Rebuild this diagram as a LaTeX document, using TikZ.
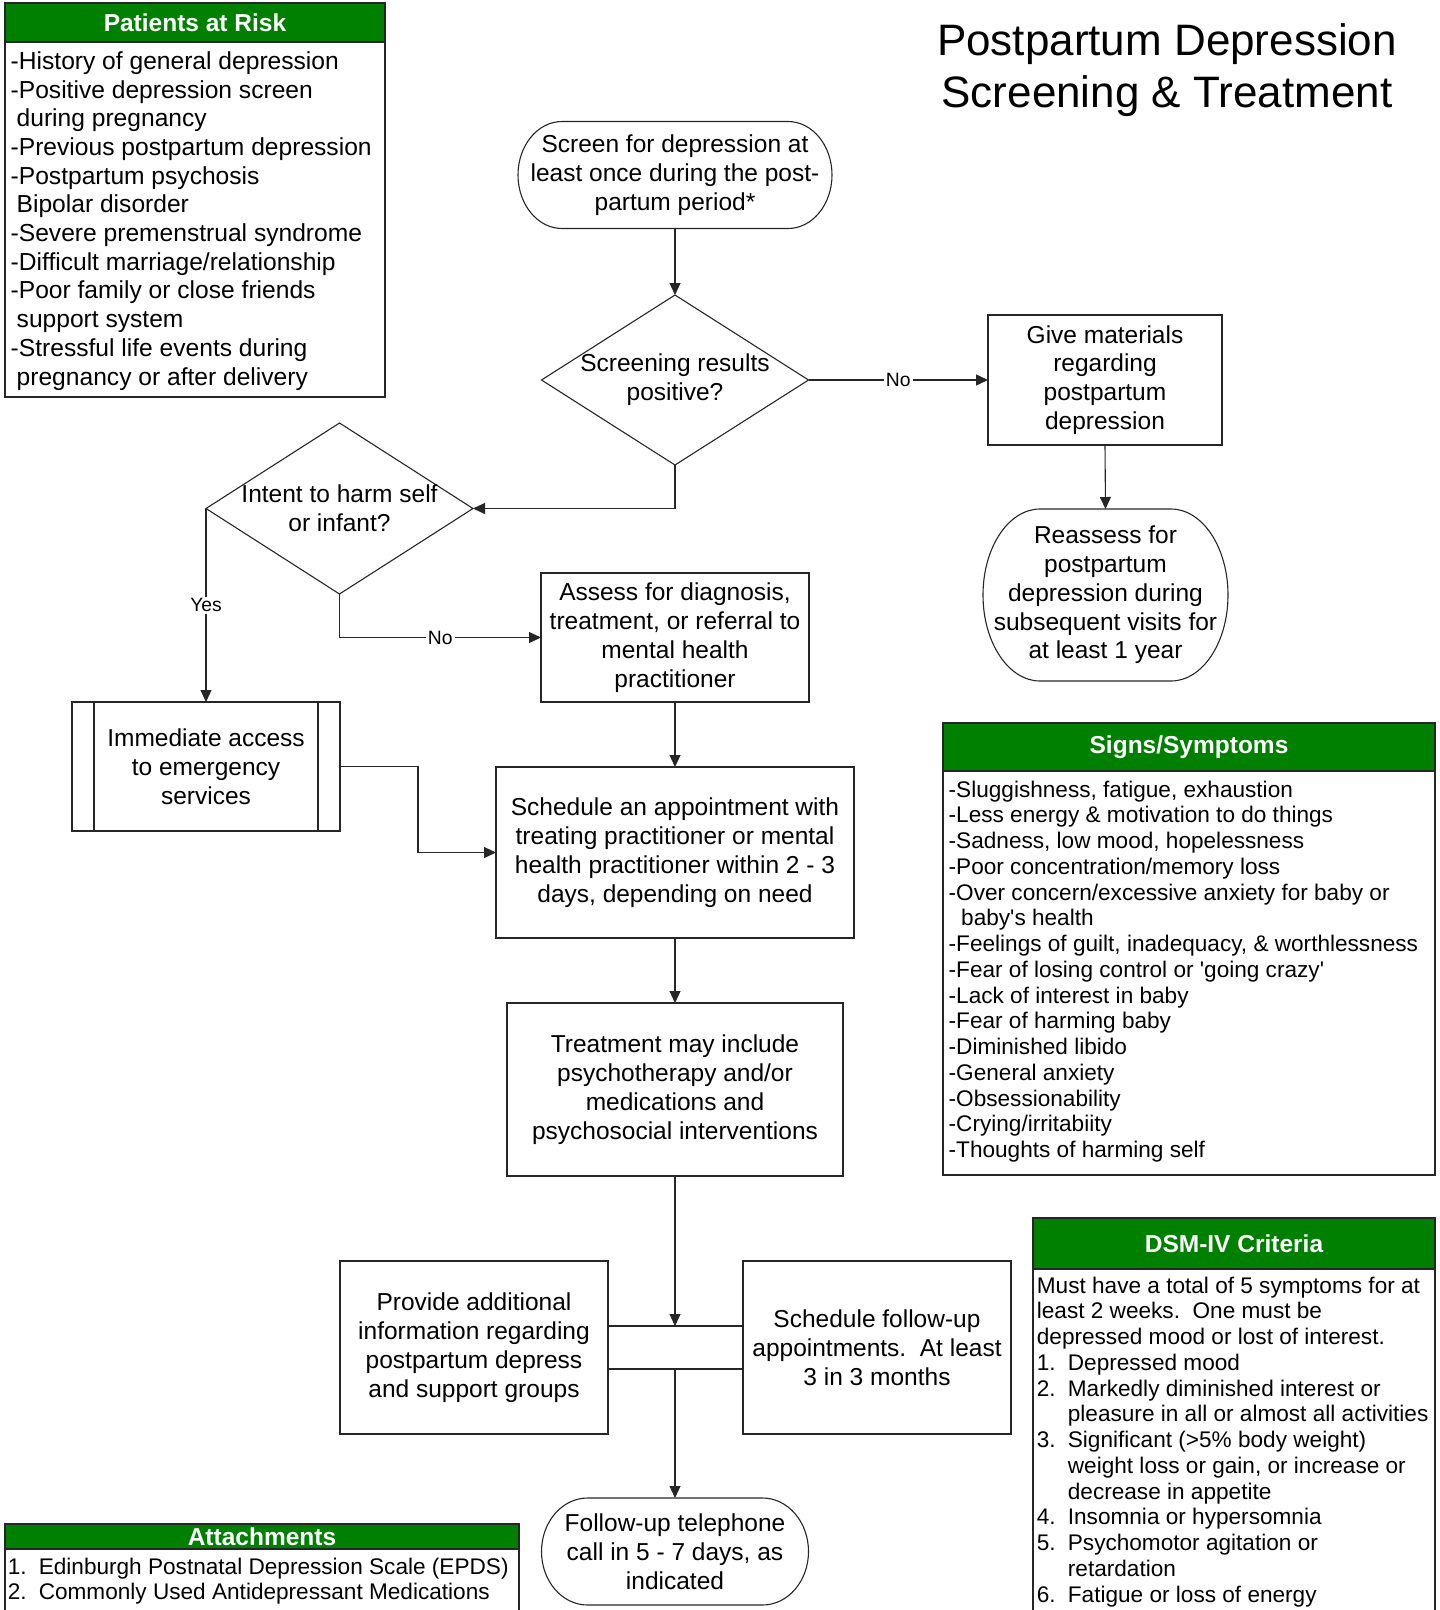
\documentclass[tikz,border=0pt]{standalone}
\usepackage{fontspec}
\usetikzlibrary{arrows.meta,positioning,shapes.geometric}
\newfontfamily\arialf{Liberation Sans}
\definecolor{hdgreen}{HTML}{008000}
\definecolor{edge}{HTML}{262626}
\newcommand{\flowfont}{\arialf\fontsize{24.5}{28.8}\selectfont}
\newcommand{\riskfont}{\arialf\fontsize{24.6}{28.7}\selectfont}
\newcommand{\listfont}{\arialf\fontsize{22.6}{25.75}\selectfont}
\newcommand{\hdfont}{\arialf\bfseries\fontsize{24.5}{28}\selectfont}
\newcommand{\tagfont}{\arialf\fontsize{19.3}{22}\selectfont}
\newcommand{\titlefont}{\arialf\fontsize{44}{52}\selectfont}
\newcommand{\itm}[1]{\makebox[31pt][l]{#1}}
\tikzset{
  box/.style={rectangle, draw=edge, line width=1.1pt, fill=white, align=center, inner sep=0pt, outer sep=0pt, font=\flowfont},
  term/.style={rectangle, inner sep=0pt, outer sep=0pt, align=center, font=\flowfont},
  decision/.style={diamond, draw=edge, line width=1.1pt, inner sep=0pt, outer sep=0pt},
  qtext/.style={align=center, inner sep=0pt, font=\flowfont},
  hdr/.style={rectangle, draw=edge, line width=1.1pt, fill=hdgreen, text=white, inner sep=0pt, outer sep=0pt, font=\hdfont},
  panel/.style={rectangle, draw=edge, line width=1.1pt, inner sep=0pt, outer sep=0pt},
  listtxt/.style={anchor=north west, align=left, inner sep=0pt, font=\listfont},
  link/.style={draw=edge, line width=1.1pt, -{Triangle[length=12pt, width=11pt]}},
  wire/.style={draw=edge, line width=1.1pt},
  tag/.style={fill=white, inner sep=2pt, font=\tagfont},
}
% outline of a terminator: node, x radius, y radius
\newcommand{\termframe}[3]{%
  \draw[draw=edge, line width=1.1pt] ([xshift=#2]#1.north west) -- ([xshift=-#2]#1.north east)
    arc[start angle=90, end angle=-90, x radius=#2, y radius=#3]
    -- ([xshift=#2]#1.south west)
    arc[start angle=270, end angle=90, x radius=#2, y radius=#3] -- cycle;}
\newcommand{\sidebars}[2]{%
  \draw[wire] ([xshift=#2]#1.north west) -- ([xshift=#2]#1.south west);
  \draw[wire] ([xshift=-#2]#1.north east) -- ([xshift=-#2]#1.south east);}

\begin{document}
\begin{tikzpicture}[x=1pt, y=1pt]
  \useasboundingbox (0,0) rectangle (1440,-1610);
  \clip (0,0) rectangle (1440,-1610);

  % side panels
  \node[hdr, minimum width=380pt, minimum height=39pt] (riskhd) at (195,-22.5) {Patients at Risk};
  \node[panel, minimum width=380pt, minimum height=355pt, below=0pt of riskhd] (riskbody) {};
  \node[listtxt, font=\riskfont] (risktxt) at ([xshift=5.5pt, yshift=-9.3pt]riskbody.north west) {%
    -History of general depression\\
    -Positive depression screen\\
    \hspace*{6pt}during pregnancy\\
    -Previous postpartum depression\\
    -Postpartum psychosis\\
    \hspace*{6pt}Bipolar disorder\\
    -Severe premenstrual syndrome\\
    -Difficult marriage/relationship\\
    -Poor family or close friends\\
    \hspace*{6pt}support system\\
    -Stressful life events during\\
    \hspace*{6pt}pregnancy or after delivery};

  \node[hdr, minimum width=492pt, minimum height=48pt] (signhd) at (1189,-747) {Signs/Symptoms};
  \node[panel, minimum width=492pt, minimum height=404pt, below=0pt of signhd] (signbody) {};
  \node[listtxt] (signtxt) at ([xshift=5.5pt, yshift=-9.6pt]signbody.north west) {%
    -Sluggishness, fatigue, exhaustion\\
    -Less energy \& motivation to do things\\
    -Sadness, low mood, hopelessness\\
    -Poor concentration/memory loss\\
    -Over concern/excessive anxiety for baby or\\
    \hspace*{12.5pt}baby's health\\
    -Feelings of guilt, inadequacy, \& worthlessness\\
    -Fear of losing control or 'going crazy'\\
    -Lack of interest in baby\\
    -Fear of harming baby\\
    -Diminished libido\\
    -General anxiety\\
    -Obsessionability\\
    -Crying/irritabiity\\
    -Thoughts of harming self};

  \node[hdr, minimum width=402pt, minimum height=51pt] (dsmhd) at (1234,-1243.5) {DSM-IV Criteria};
  \node[panel, minimum width=402pt, minimum height=360pt, below=0pt of dsmhd] (dsmbody) {};
  \node[listtxt] (dsmtxt) at ([xshift=3.7pt, yshift=-7.6pt]dsmbody.north west) {%
    Must have a total of 5 symptoms for at\\
    least 2 weeks.\ \ One must be\\
    depressed mood or lost of interest.\\
    \itm{1.}Depressed mood\\
    \itm{2.}Markedly diminished interest or\\
    \itm{}pleasure in all or almost all activities\\
    \itm{3.}Significant (>5\% body weight)\\
    \itm{}weight loss or gain, or increase or\\
    \itm{}decrease in appetite\\
    \itm{4.}Insomnia or hypersomnia\\
    \itm{5.}Psychomotor agitation or\\
    \itm{}retardation\\
    \itm{6.}Fatigue or loss of energy};

  \node[hdr, minimum width=514pt, minimum height=25pt] (atthd) at (262,-1536.5) {Attachments};
  \node[panel, minimum width=514pt, minimum height=80pt, below=0pt of atthd] (attbody) {};
  \node[listtxt] (atttxt) at ([xshift=2.6pt, yshift=-8.6pt]attbody.north west) {%
    \itm{1.}Edinburgh Postnatal Depression Scale (EPDS)\\
    \itm{2.}Commonly Used Antidepressant Medications};

  \node[font=\titlefont, align=center, inner sep=0pt, anchor=north] (title) at (1167,-23.5)
    {Postpartum Depression\\Screening \& Treatment};

  % flow
  \node[term, minimum width=314pt, minimum height=107pt] (screen) at (675,-175)
    {Screen for depression at\\least once during the post-\\partum period*};
  \termframe{screen}{44pt}{53.5pt}
  \node[decision, minimum width=267pt, minimum height=170pt] (dec1) at (675,-380) {};
  \node[qtext] (dec1txt) at (dec1) {Screening results\\positive?};
  \node[box, minimum width=234pt, minimum height=130pt] (giv) at (1105,-380)
    {Give materials\\regarding\\postpartum\\depression};
  \node[term, minimum width=245pt, minimum height=172pt] (reas) at (1105.5,-595)
    {Reassess for\\postpartum\\depression during\\subsequent visits for\\at least 1 year};
  \termframe{reas}{57pt}{86pt}
  \node[decision, minimum width=267pt, minimum height=171pt] (intent) at (339.5,-508.5) {};
  \node[qtext] (intenttxt) at (intent) {Intent to harm self\\or infant?};
  \node[box, minimum width=268pt, minimum height=129pt] (emerg) at (206,-766.5)
    {Immediate access\\to emergency\\services};
  \sidebars{emerg}{22pt}
  \node[box, minimum width=268pt, minimum height=129pt] (assess) at (675,-637.5)
    {Assess for diagnosis,\\treatment, or referral to\\mental health\\practitioner};
  \node[box, minimum width=358pt, minimum height=171pt] (sched) at (675,-852.5)
    {Schedule an appointment with\\treating practitioner or mental\\health practitioner within 2 - 3\\days, depending on need};
  \node[box, minimum width=336pt, minimum height=173pt] (treat) at (675,-1089.5)
    {Treatment may include\\psychotherapy and/or\\medications and\\psychosocial interventions};
  \node[box, minimum width=268pt, minimum height=173pt] (provide) at (474,-1347.5)
    {Provide additional\\information regarding\\postpartum depress\\and support groups};
  \node[box, minimum width=268pt, minimum height=173pt] (fup) at (877,-1347.5)
    {Schedule follow-up\\appointments.\ \ At least\\3 in 3 months};
  \node[term, minimum width=267pt, minimum height=107pt] (tel) at (675,-1551.5)
    {Follow-up telephone\\call in 5 - 7 days, as\\indicated};
  \termframe{tel}{46pt}{53.5pt}
  \coordinate (jtop) at (675,-1326);
  \coordinate (jbot) at (675,-1369);

  \draw[link] (screen.south) -- (dec1.north);
  \draw[link] (dec1.east) -- node[tag] {No} (giv.west);
  \draw[link] (giv.south) -- (reas.north);
  \draw[link] (dec1.south) |- (intent.east);
  \draw[link] (intent.west) -- node[tag] {Yes} (emerg.north);
  \draw[link] (intent.south) |- node[tag, pos=0.75] {No} (assess.west);
  \draw[link] (assess.south) -- (sched.north);
  \draw[link] (emerg.east) -- ++(78,0) |- (sched.west);
  \draw[link] (sched.south) -- (treat.north);
  \draw[wire] ([yshift=21.5pt]provide.east) -- ([yshift=21.5pt]fup.west);
  \draw[wire] ([yshift=-21.5pt]provide.east) -- ([yshift=-21.5pt]fup.west);
  \draw[link] (treat.south) -- (jtop);
  \draw[link] (jbot) -- (tel.north);
\end{tikzpicture}
\end{document}
